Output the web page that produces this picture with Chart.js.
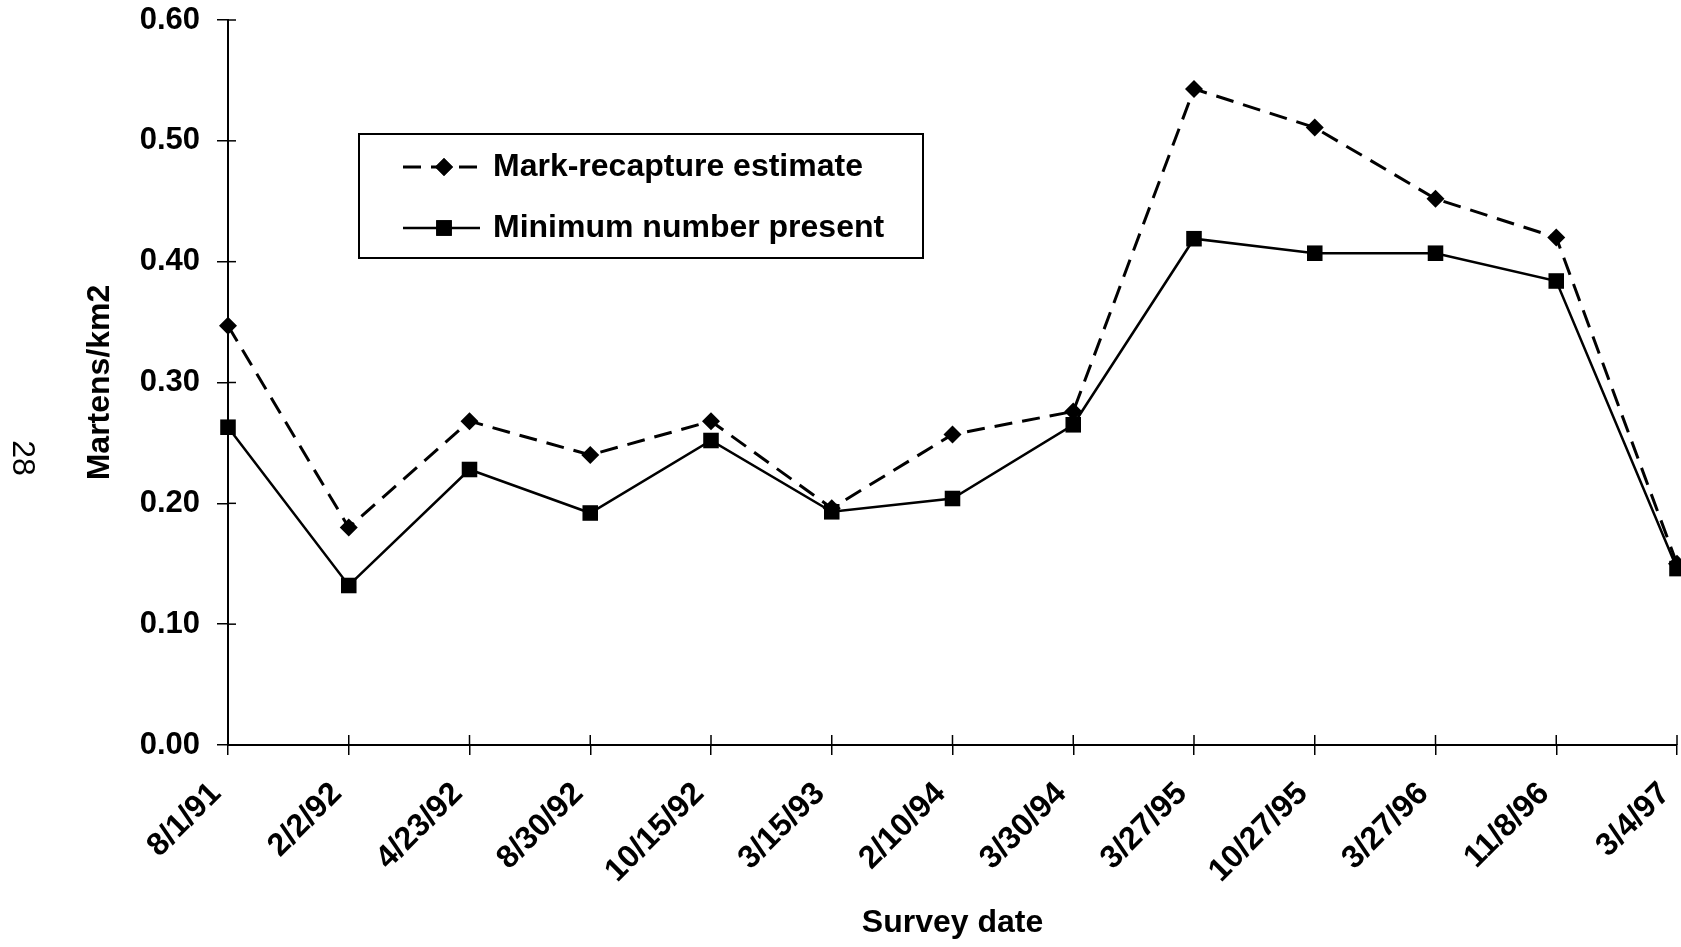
<!DOCTYPE html>
<html><head><meta charset="utf-8">
<script src="https://cdn.jsdelivr.net/npm/chart.js@4/dist/chart.umd.min.js"></script>
<style>html,body{margin:0;padding:0;background:#fff}#wrap{width:1681px;height:947px;position:relative}</style>
</head><body><div id="wrap"><canvas id="c"></canvas></div>
<script>
const surveyDates = ['8/1/91','2/2/92','4/23/92','8/30/92','10/15/92','3/15/93','2/10/94','3/30/94','3/27/95','10/27/95','3/27/96','11/8/96','3/4/97'];
const markRecapture = [0.347,0.180,0.268,0.240,0.268,0.196,0.257,0.276,0.543,0.511,0.452,0.420,0.150];
const minimumPresent = [0.263,0.132,0.228,0.192,0.252,0.193,0.204,0.265,0.419,0.407,0.407,0.384,0.146];
const seriesNames = ['Mark-recapture estimate','Minimum number present'];
const yAxisTitle = 'Martens/km2';
const xAxisTitle = 'Survey date';
const pageNumber = '28';

const FAM = "'Liberation Sans', Arial, Helvetica, sans-serif";

const innerTicks = {
  id:'innerTicks',
  beforeDatasetsDraw(chart){
    const ctx = chart.ctx, xs = chart.scales.x, ys = chart.scales.y, a = chart.chartArea;
    ctx.save(); ctx.strokeStyle='#000'; ctx.lineWidth=1.5;
    xs.ticks.forEach((t,i)=>{ const px = xs.getPixelForTick(i); ctx.beginPath(); ctx.moveTo(px,a.bottom); ctx.lineTo(px,a.bottom-10); ctx.stroke(); });
    ys.ticks.forEach((t,i)=>{ const py = ys.getPixelForTick(i); ctx.beginPath(); ctx.moveTo(a.left,py); ctx.lineTo(a.left+8,py); ctx.stroke(); });
    ctx.restore();
  }
};

const boxLegend = {
  id:'boxLegend',
  afterDraw(chart){
    const ctx = chart.ctx;
    const L=359, T=134, W=564, H=124;
    ctx.save();
    ctx.strokeStyle='#000'; ctx.lineWidth=2;
    ctx.strokeRect(L,T,W,H);
    const rows=[{y:167, ds:chart.data.datasets[1]},{y:228, ds:chart.data.datasets[0]}];
    rows.forEach(r=>{
      ctx.save();
      ctx.strokeStyle='#000'; ctx.lineWidth=r.ds.borderWidth;
      ctx.setLineDash(r.ds.borderDash||[]);
      ctx.beginPath(); ctx.moveTo(403,r.y); ctx.lineTo(480,r.y); ctx.stroke();
      ctx.restore();
      Chart.helpers.drawPoint(ctx,{pointStyle:r.ds.pointStyle,radius:r.ds.pointRadius,rotation:0,borderWidth:0},444,r.y);
      ctx.fillStyle='#000'; ctx.fill();
      ctx.font='bold 32px '+FAM; ctx.textBaseline='middle'; ctx.textAlign='left';
      ctx.fillText(r.ds.label,493,r.y);
    });
    ctx.translate(22,458); ctx.rotate(Math.PI/2);
    ctx.font='32px '+FAM; ctx.textAlign='center'; ctx.textBaseline='middle';
    ctx.fillText(pageNumber,0,0);
    ctx.restore();
  }
};

new Chart(document.getElementById('c'),{
  type:'line',
  data:{
    labels:surveyDates,
    datasets:[
      {label:seriesNames[1], data:minimumPresent, order:0, borderColor:'#000', backgroundColor:'#000', borderWidth:2.5, pointStyle:'rect', pointRadius:11, pointBorderWidth:0, pointBackgroundColor:'#000', tension:0, clip:false},
      {label:seriesNames[0], data:markRecapture, order:1, borderColor:'#000', backgroundColor:'#000', borderWidth:3, borderDash:[18,10], pointStyle:'rectRot', pointRadius:9, pointBorderWidth:0, pointBackgroundColor:'#000', tension:0, clip:false}
    ]
  },
  options:{
    responsive:true, maintainAspectRatio:false, animation:false,
    layout:{autoPadding:false, padding:{left:0,right:4,top:20,bottom:0}},
    plugins:{legend:{display:false}, tooltip:{enabled:false}},
    scales:{
      x:{
        type:'category', offset:false,
        grid:{display:true, drawOnChartArea:false, drawTicks:true, tickLength:10, color:'#000', lineWidth:1.5},
        border:{display:true, color:'#000', width:2},
        ticks:{color:'#000', font:{family:FAM, size:32, weight:'bold'}, minRotation:45, maxRotation:45, autoSkip:false, padding:20, labelOffset:-12},
        title:{display:true, text:xAxisTitle, color:'#000', font:{family:FAM, size:32, weight:'bold'}, padding:{top:0,bottom:5}},
        afterFit(s){ s.height=202; s.paddingLeft=0; s.paddingRight=0; }
      },
      y:{
        min:0, max:0.6,
        grid:{display:true, drawOnChartArea:false, drawTicks:true, tickLength:11, color:'#000', lineWidth:1.5},
        border:{display:true, color:'#000', width:2},
        ticks:{stepSize:0.1, color:'#000', font:{family:FAM, size:31, weight:'bold'}, padding:17, callback:v=>Number(v).toFixed(2)},
        title:{display:true, text:yAxisTitle, color:'#000', font:{family:FAM, size:32, weight:'bold'}, padding:{top:81,bottom:0}},
        afterFit(s){ s.width=228; s.paddingTop=0; s.paddingBottom=0; }
      }
    }
  },
  plugins:[innerTicks, boxLegend]
});
</script></body></html>
